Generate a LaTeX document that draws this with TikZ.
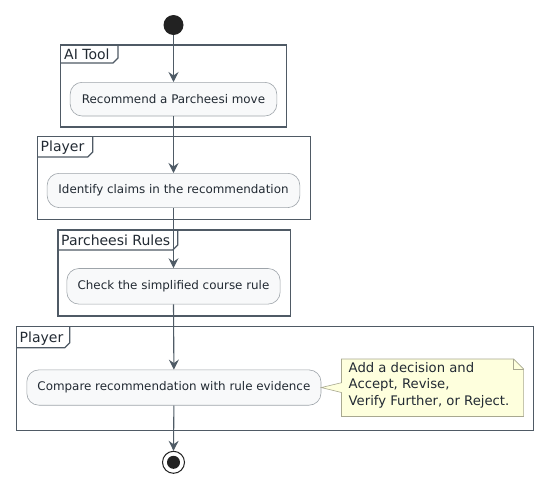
\documentclass[tikz,border=0pt]{standalone}
\usepackage{fontspec}
\setmainfont{DejaVu Sans}
\usetikzlibrary{arrows.meta,positioning,calc}
\definecolor{framec}{HTML}{4F5A65}
\definecolor{arrowc}{HTML}{4F5B66}
\definecolor{actfill}{HTML}{F8F9FA}
\definecolor{actdraw}{HTML}{9EA4AA}
\definecolor{txt}{HTML}{222A33}
\definecolor{notefill}{HTML}{FEFFDD}
\definecolor{notedraw}{HTML}{A8A890}
\definecolor{startc}{HTML}{222222}
\tikzset{
  act/.style={draw=actdraw, line width=0.6pt, fill=actfill, rounded corners=12pt,
    text=txt, font=\fontsize{11.9}{14}\selectfont, inner sep=0pt, anchor=north},
  flow/.style={draw=arrowc, line width=1.1pt, -{Stealth[length=10pt,width=10pt,inset=3.5pt]}},
  frm/.style={draw=framec, line width=1.3pt},
  frmlabel/.style={text=txt, font=\fontsize{14}{16}\selectfont, anchor=base west, inner sep=0pt},
  notetext/.style={text=txt, font=\fontsize{13.2}{16.5}\selectfont, align=left, inner sep=0pt, anchor=north west}
}
\newcommand{\myframe}[6]{% left top right bottom tabright tabbottom
  \draw[frm] (#1,#2) rectangle (#3,#4);
  \draw[frm] (#1,#6) -- (#5-5,#6) -- (#5,#6-5) -- (#5,#2);
}
\begin{document}
\begin{tikzpicture}[x=1pt,y=-1pt]
\useasboundingbox (0,0) rectangle (552,479);
\fill[white] (0,0) rectangle (552,479);
% frames
\myframe{60.7}{45}{286.7}{127}{118}{63}
\node[frmlabel] (f1) at (64,59) {AI Tool};
\myframe{37.3}{136.7}{310.7}{219.3}{92.7}{157}
\node[frmlabel] (f2) at (40.5,151) {Player};
\myframe{58}{230}{290.8}{316}{177.8}{250}
\node[frmlabel] (f3) at (61,245) {Parcheesi Rules};
\myframe{16.5}{326.7}{533.5}{430.2}{69.7}{347.8}
\node[frmlabel] (f4) at (19.5,342) {Player};
% start
\node[circle, fill=startc, minimum size=20pt, inner sep=0pt] (start) at (173.5,25) {};
% activities
\node[act, minimum width=206.7pt, minimum height=33.7pt] (a1) at (173.5,82) {Recommend a Parcheesi move};
\node[act, minimum width=252.7pt, minimum height=34.3pt] (a2) at (173.5,173) {Identify claims in the recommendation};
\node[act, minimum width=213.3pt, minimum height=35.6pt] (a3) at (173.5,268.2) {Check the simplified course rule};
\node[act, minimum width=294.2pt, minimum height=35.3pt] (a4) at (173.9,369.6) {Compare recommendation with rule evidence};
% end
\node[circle, draw=startc, line width=1pt, fill=white, minimum size=22pt, inner sep=0pt] (endc) at (173.5,462.3) {};
\node[circle, fill=startc, minimum size=13pt, inner sep=0pt] (endi) at (endc.center) {};
% flows
\draw[flow] (start.south) -- (a1.north);
\draw[flow] (a1.south) -- (a2.north);
\draw[flow] (a2.south) -- (a3.north);
\draw[flow] (a3.south) -- (a4.north);
\draw[flow] (a4.south) -- (endc.north);
% note
\coordinate (nw) at (341.5,359);
\coordinate (se) at (523.6,416.5);
\draw[draw=notedraw, line width=0.6pt, fill=notefill]
  (nw) -- (513.6,359) -- (523.6,369) -- (se) -- (341.5,416.5) -- (341.5,392.5) -- (a4.east) -- (341.5,382.7) -- cycle;
\draw[draw=notedraw, line width=0.6pt] (513.6,359) -- (513.6,369) -- (523.6,369);
\node[notetext] (note) at (348.5,362) {Add a decision and\\Accept, Revise,\\Verify Further, or Reject.};
\end{tikzpicture}
\end{document}
